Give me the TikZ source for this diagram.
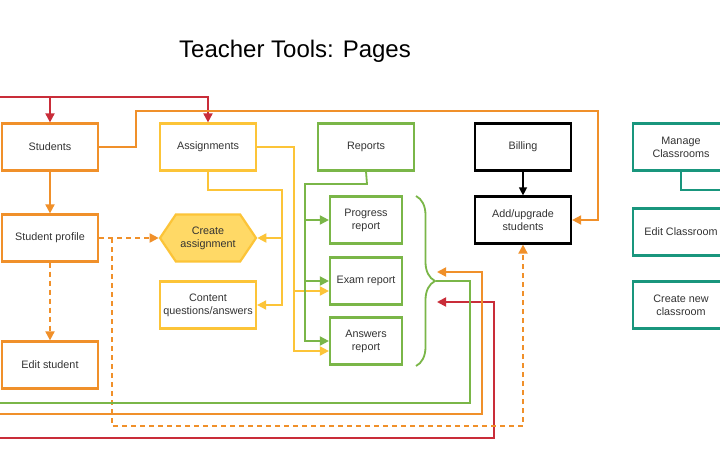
\documentclass[tikz,border=0pt]{standalone}
\usepackage{fontspec}
\setmainfont{Liberation Sans}
\usetikzlibrary{
  arrows.meta,
  shapes.symbols,
  decorations.pathreplacing
}
\definecolor{orangeL}{HTML}{F0902A}
\definecolor{yellowL}{HTML}{FCC438}
\definecolor{yellowF}{HTML}{FFD966}
\definecolor{greenL}{HTML}{7AB648}
\definecolor{redL}{HTML}{C92D39}
\definecolor{tealL}{HTML}{19967D}
\definecolor{textC}{HTML}{333333}

\begin{document}
\begin{tikzpicture}[
  x=1pt, y=-1pt,
  page/.style={draw=#1, line width=2.2pt, fill=white, minimum width=96pt,
               minimum height=47pt, inner sep=2pt, align=center, text=textC,
               font=\fontsize{10.8}{13}\selectfont},
  subpage/.style={page=#1, minimum width=72pt},
  link/.style={draw=#1, line width=1.8pt},
  arrow/.style={link=#1, -{Triangle[length=9pt, width=9pt]}},
  dasharrow/.style={arrow=#1, dash pattern=on 5pt off 4pt}
]
  \fill[white] (0,0) rectangle (720,463);
  \clip (0,0) rectangle (720,463);

  % Title
  \node[font=\fontsize{24}{28}\selectfont, text=black] (title) at (295,51) {Teacher Tools: Pages};

  % Students column
  \node[page=orangeL] (students) at (50,147) {Students};
  \node[page=orangeL] (profile) at (50,238) {Student profile};
  \node[page=orangeL] (edit) at (50,365) {Edit student};

  % Assignments column
  \node[page=yellowL] (assign) at (208,147) {Assignments};
  \node[page=yellowL, fill=yellowF, shape=signal, signal to=west and east,
        signal pointer angle=112] (create) at (208,238) {Create\\assignment};
  \node[page=yellowL] (content) at (208,305) {Content\\questions/answers};

  % Reports column
  \node[page=greenL] (reports) at (366,147) {Reports};
  \node[subpage=greenL] (progress) at (366,220) {Progress\\report};
  \node[subpage=greenL] (exam) at (366,281) {Exam report};
  \node[subpage=greenL] (answers) at (366,341) {Answers\\report};

  % Billing column
  \node[page=black] (billing) at (523,147) {Billing};
  \node[page=black] (addup) at (523,220) {Add/upgrade\\students};

  % Classrooms column
  \node[page=tealL] (manage) at (681,147) {Manage\\Classrooms};
  \node[page=tealL] (editclass) at (681,232) {Edit Classroom};
  \node[page=tealL] (newclass) at (681,305) {Create new\\classroom};

  % Free ends
  \coordinate (redtop) at (0,97);
  \coordinate (redbot) at (0,438);
  \coordinate (redtip) at (437,302);
  \coordinate (orangebot) at (0,414);
  \coordinate (orangetip) at (437,272);
  \coordinate (greenbot) at (0,403);
  \coordinate (bracetip) at (436,281);
  \coordinate (tealend) at (720,190);

  % Report brace
  \draw[greenL, line width=1.8pt, decorate, decoration={brace, amplitude=19pt}]
    (416,196) -- (416,366);

  % Red links
  \draw[arrow=redL] (redtop) -| (assign.north);
  \draw[arrow=redL] (students.north |- redtop) -- (students.north);
  \draw[arrow=redL] (redbot) -- (494,438) |- (redtip);

  % Orange links
  \draw[arrow=orangeL] (students) -- (profile);
  \draw[dasharrow=orangeL] (profile) -- (edit);
  \draw[arrow=orangeL] (students.east) -- (136,147) -- (136,111) -- (598,111) |- (addup.east);
  \draw[dasharrow=orangeL] (profile.east) -- (create.west);
  \draw[dasharrow=orangeL] (112,238) -- (112,426) -| (addup.south);
  \draw[arrow=orangeL] (orangebot) -- (482,414) |- (orangetip);

  % Yellow links
  \draw[arrow=yellowL] (assign.south) -- (208,190) -- (282,190) |- (content.east);
  \draw[arrow=yellowL] (282,238) -- (create.east);
  \draw[arrow=yellowL] (assign.east) -- (294,147) |- ([yshift=-10pt]answers.west);
  \draw[arrow=yellowL] (294,291) -- ([yshift=-10pt]exam.west);

  % Green links
  \draw[arrow=greenL] (reports.south) -- (367,184) -- (305,184) |- (answers.west);
  \draw[arrow=greenL] (305,220) -- (progress.west);
  \draw[arrow=greenL] (305,281) -- (exam.west);
  \draw[link=greenL] (bracetip) -- (470,281) |- (greenbot);

  % Billing and classrooms
  \draw[link=black, line width=1.3pt, -{Triangle[length=8pt, width=8pt]}] (billing) -- (addup);
  \draw[link=tealL, line width=2.6pt] (manage.south) |- (tealend);
\end{tikzpicture}
\end{document}
